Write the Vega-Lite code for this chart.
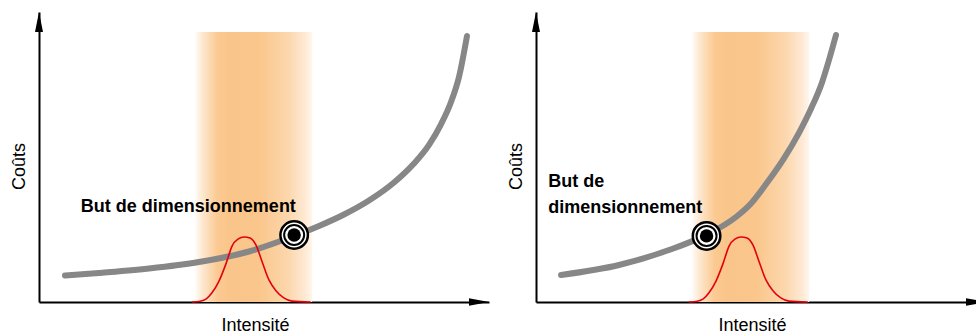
{
  "$schema": "https://vega.github.io/schema/vega-lite/v6.json",
  "padding": {"left": 10, "top": 12, "right": 0, "bottom": 0},
  "spacing": 18,
  "background": "white",
  "config": {
    "view": {"stroke": null},
    "font": "Liberation Sans",
    "axis": {
      "ticks": false, "labels": false, "grid": false,
      "domainColor": "black", "domainWidth": 2,
      "titleFontSize": 18, "titleFontWeight": "normal", "titleFont": "Liberation Sans",
      "titleColor": "black", "zindex": 1
    },
    "axisX": {"titleX": 216, "titleY": 28, "titleBaseline": "alphabetic", "titleAlign": "center"},
    "axisY": {"titleX": -15, "titleY": 154, "titleBaseline": "alphabetic", "titleAngle": 270, "titleAlign": "center"}
  },
  "datasets": {
    "band": [{"x": 34.4, "x2": 60.7, "y": 0, "y2": 93.1}],
    "gauss": [
      {"x": 34.0, "y": 0}, {"x": 35.6, "y": 0.2}, {"x": 37.1, "y": 1.0}, {"x": 38.4, "y": 3.1},
      {"x": 40.0, "y": 7.2}, {"x": 41.6, "y": 13.4}, {"x": 42.9, "y": 19.3}, {"x": 44.2, "y": 21.7},
      {"x": 45.6, "y": 22.4}, {"x": 46.9, "y": 22.1}, {"x": 48.2, "y": 19.7}, {"x": 49.6, "y": 13.8},
      {"x": 51.1, "y": 7.6}, {"x": 52.7, "y": 3.8}, {"x": 54.4, "y": 1.4}, {"x": 56.2, "y": 0.3},
      {"x": 60.4, "y": 0}
    ],
    "curveL": [
      {"x": 5.78, "y": 9.14}, {"x": 13.33, "y": 10.0}, {"x": 24.44, "y": 11.55}, {"x": 35.56, "y": 13.79},
      {"x": 46.67, "y": 17.41}, {"x": 56.67, "y": 22.76}, {"x": 62.22, "y": 26.21}, {"x": 67.78, "y": 30.17},
      {"x": 73.33, "y": 35.0}, {"x": 78.89, "y": 41.21}, {"x": 83.33, "y": 47.76}, {"x": 86.67, "y": 54.21},
      {"x": 89.33, "y": 61.28}, {"x": 91.56, "y": 68.97}, {"x": 93.33, "y": 77.59}, {"x": 95.11, "y": 91.72}
    ],
    "curveR": [
      {"x": 5.56, "y": 9.31}, {"x": 18.44, "y": 12.76}, {"x": 29.56, "y": 17.93}, {"x": 37.78, "y": 23.1},
      {"x": 44.44, "y": 29.31}, {"x": 47.78, "y": 33.97}, {"x": 51.78, "y": 42.07}, {"x": 55.11, "y": 49.55},
      {"x": 58.44, "y": 58.34}, {"x": 61.11, "y": 66.62}, {"x": 63.56, "y": 75.72}, {"x": 65.11, "y": 83.45},
      {"x": 66.67, "y": 92.07}
    ],
    "markL": [{"x": 56.7, "y": 23.1}],
    "markR": [{"x": 37.9, "y": 22.8}],
    "labelL": [{"x": 9.3, "y": 31.0, "text": "But de dimensionnement"}],
    "labelR": [{"x": 2.7, "y": 39.7, "text": "But de\ndimensionnement"}],
    "arrowUp": [{"x": 0, "y": 100}],
    "arrowRight": [{"x": 100, "y": 0}]
  },
  "hconcat": [
    {
      "width": 450, "height": 290,
      "encoding": {
        "x": {"field": "x", "type": "quantitative", "scale": {"domain": [0, 100], "nice": false, "zero": false}, "axis": {"title": "Intensité"}},
        "y": {"field": "y", "type": "quantitative", "scale": {"domain": [0, 100], "nice": false, "zero": false}, "axis": {"title": "Coûts"}}
      },
      "layer": [
        {"data": {"name": "band"}, "mark": {"type": "rect", "color": {"gradient": "linear", "x1": 0, "x2": 1, "y1": 0, "y2": 0, "stops": [
          {"offset": 0, "color": "#ffffff"}, {"offset": 0.08, "color": "#fde6cc"}, {"offset": 0.2, "color": "#fbca92"},
          {"offset": 0.3, "color": "#fac58a"}, {"offset": 0.55, "color": "#fac68b"}, {"offset": 0.8, "color": "#fcd7ad"},
          {"offset": 0.94, "color": "#fee9d4"}, {"offset": 1, "color": "#fff6ec"}]}},
          "encoding": {"x2": {"field": "x2"}, "y2": {"field": "y2"}}},
        {"data": {"name": "curveL"}, "mark": {"type": "line", "color": "#878787", "strokeWidth": 6, "strokeCap": "round", "interpolate": "monotone"}},
        {"data": {"name": "gauss"}, "mark": {"type": "line", "color": "#e3000f", "strokeWidth": 1.6, "interpolate": "monotone"}},
        {"data": {"name": "labelL"}, "mark": {"type": "text", "font": "Liberation Sans", "fontWeight": "bold", "fontSize": 18, "align": "left", "baseline": "alphabetic", "color": "black"}, "encoding": {"text": {"field": "text"}}},
        {"data": {"name": "markL"}, "mark": {"type": "point", "shape": "circle", "filled": false, "fill": "white", "fillOpacity": 1, "stroke": "black", "strokeWidth": 2.5, "size": 756, "opacity": 1}},
        {"data": {"name": "markL"}, "mark": {"type": "point", "shape": "circle", "filled": false, "fill": "white", "fillOpacity": 1, "stroke": "black", "strokeWidth": 2, "size": 400, "opacity": 1}},
        {"data": {"name": "markL"}, "mark": {"type": "point", "shape": "circle", "filled": true, "color": "black", "size": 180, "opacity": 1}},
        {"data": {"name": "arrowUp"}, "mark": {"type": "point", "shape": "M0,0L0.4,2L-0.4,2Z", "filled": true, "color": "black", "size": 400, "opacity": 1, "strokeWidth": 0}},
        {"data": {"name": "arrowRight"}, "mark": {"type": "point", "shape": "M0,0L-2,-0.38L-2,0.38Z", "filled": true, "color": "black", "size": 400, "opacity": 1, "strokeWidth": 0}}
      ]
    },
    {
      "width": 450, "height": 290,
      "encoding": {
        "x": {"field": "x", "type": "quantitative", "scale": {"domain": [0, 100], "nice": false, "zero": false}, "axis": {"title": "Intensité"}},
        "y": {"field": "y", "type": "quantitative", "scale": {"domain": [0, 100], "nice": false, "zero": false}, "axis": {"title": "Coûts"}}
      },
      "layer": [
        {"data": {"name": "band"}, "mark": {"type": "rect", "color": {"gradient": "linear", "x1": 0, "x2": 1, "y1": 0, "y2": 0, "stops": [
          {"offset": 0, "color": "#ffffff"}, {"offset": 0.08, "color": "#fde6cc"}, {"offset": 0.2, "color": "#fbca92"},
          {"offset": 0.3, "color": "#fac58a"}, {"offset": 0.55, "color": "#fac68b"}, {"offset": 0.8, "color": "#fcd7ad"},
          {"offset": 0.94, "color": "#fee9d4"}, {"offset": 1, "color": "#fff6ec"}]}},
          "encoding": {"x2": {"field": "x2"}, "y2": {"field": "y2"}}},
        {"data": {"name": "curveR"}, "mark": {"type": "line", "color": "#878787", "strokeWidth": 6, "strokeCap": "round", "interpolate": "monotone"}},
        {"data": {"name": "gauss"}, "mark": {"type": "line", "color": "#e3000f", "strokeWidth": 1.6, "interpolate": "monotone"}},
        {"data": {"name": "labelR"}, "mark": {"type": "text", "font": "Liberation Sans", "fontWeight": "bold", "fontSize": 18, "align": "left", "baseline": "alphabetic", "color": "black", "lineBreak": "\n", "lineHeight": 26}, "encoding": {"text": {"field": "text"}}},
        {"data": {"name": "markR"}, "mark": {"type": "point", "shape": "circle", "filled": false, "fill": "white", "fillOpacity": 1, "stroke": "black", "strokeWidth": 2.5, "size": 756, "opacity": 1}},
        {"data": {"name": "markR"}, "mark": {"type": "point", "shape": "circle", "filled": false, "fill": "white", "fillOpacity": 1, "stroke": "black", "strokeWidth": 2, "size": 400, "opacity": 1}},
        {"data": {"name": "markR"}, "mark": {"type": "point", "shape": "circle", "filled": true, "color": "black", "size": 180, "opacity": 1}},
        {"data": {"name": "arrowUp"}, "mark": {"type": "point", "shape": "M0,0L0.4,2L-0.4,2Z", "filled": true, "color": "black", "size": 400, "opacity": 1, "strokeWidth": 0}},
        {"data": {"name": "arrowRight"}, "mark": {"type": "point", "shape": "M0,0L-2,-0.38L-2,0.38Z", "filled": true, "color": "black", "size": 400, "opacity": 1, "strokeWidth": 0}}
      ]
    }
  ]
}
